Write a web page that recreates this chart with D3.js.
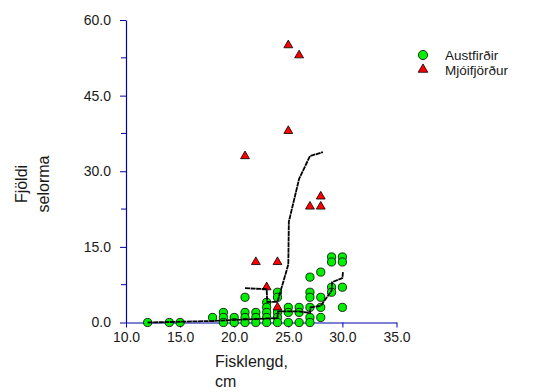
<!DOCTYPE html>
<html>
<head>
<meta charset="utf-8">
<script src="https://cdn.jsdelivr.net/npm/d3@7"></script>
<style>
  body { margin: 0; background: #fff; }
  text { font-family: "Liberation Sans", Arial, sans-serif; fill: #1a1a1a; }
</style>
</head>
<body>
<div id="chart"></div>
<script>
// Austfirðir (circles)
const austX = [12, 14, 15, 18, 19, 19, 19, 20, 20, 21, 21, 21, 21, 22, 22, 22,
    23, 23, 23, 23, 23, 24, 24, 24, 24, 24, 25, 25, 25, 26, 26, 26,
    27, 27, 27, 27, 27, 27, 28, 28, 28, 28, 29, 29, 29, 29, 30, 30, 30, 30];
const austY = [0, 0, 0, 1, 2, 1, 0, 1, 0, 5, 2, 1, 0, 2, 1, 0,
    4, 3, 2, 1, 0, 6, 5, 2, 1, 0, 3, 2, 0, 3, 2, 0,
    9, 6, 5, 3, 1, 0, 10, 5, 3, 1, 13, 12, 7, 6, 13, 12, 7, 3];

// Mjóifjörður (triangles)
const mjoX = [21, 22, 23, 24, 24, 25, 25, 26, 27, 28, 28];
const mjoY = [33, 12, 7, 12, 3, 55, 38, 53, 23, 23, 25];

// trend lines
const austLineX = [12, 18, 21, 23, 24, 24.05, 26, 27, 27.05, 28, 29, 29.05, 30, 30.05];
const austLineY = [0, 0.3, 0.6, 0.8, 0.9, 2.2, 2.2, 1.9, 3, 3.3, 6.3, 8, 8.8, 10];
const mjoLineX = [21, 23, 23.05, 24, 25, 25.05, 26, 27, 28.2];
const mjoLineY = [6.8, 6.6, 4.1, 4.1, 11.5, 20, 28.5, 33, 33.8];

const xTicks = [10, 15, 20, 25, 30, 35];
const yTicks = [0, 15, 30, 45, 60];
const yMinor = [7.5, 22.5, 37.5, 52.5];

const seriesNames = ["Austfirðir", "Mjóifjörður"];

const width = 541, height = 392;
const axisColor = "#0000a8";

const svg = d3.select("#chart").append("svg")
    .attr("width", width)
    .attr("height", height);

const x = d3.scaleLinear().domain([10, 35]).range([126, 396.5]);
const y = d3.scaleLinear().domain([0, 60]).range([322.5, 20]);

// axes
const xAxis = d3.axisBottom(x).tickValues(xTicks).tickFormat(d3.format(".1f"))
    .tickSizeInner(5).tickSizeOuter(0).tickPadding(5);
const yAxis = d3.axisLeft(y).tickValues(yTicks).tickFormat(d3.format(".1f"))
    .tickSizeInner(6).tickSizeOuter(0).tickPadding(9);

const gx = svg.append("g").attr("class", "x-axis")
    .attr("transform", "translate(0," + y(0) + ")")
    .call(xAxis);
const gy = svg.append("g").attr("class", "y-axis")
    .attr("transform", "translate(" + x(10) + ",0)")
    .call(yAxis);

// minor ticks on y
gy.selectAll(".minor").data(yMinor).enter().append("line")
    .attr("class", "minor")
    .attr("x1", -5).attr("x2", 0)
    .attr("y1", d => y(d)).attr("y2", d => y(d))
    .attr("stroke", axisColor);

[gx, gy].forEach(g => {
    g.select(".domain").attr("stroke", axisColor).attr("stroke-width", 1.2);
    g.selectAll(".tick line").attr("stroke", axisColor);
    g.selectAll(".tick text").style("font-size", "14px").attr("fill", "#1a1a1a")
        .style("font-family", "'Liberation Sans', Arial, sans-serif");
});

// points
svg.append("g").selectAll("circle")
    .data(austX.map((d, i) => [d, austY[i]]))
    .enter().append("circle")
    .attr("cx", d => x(d[0]))
    .attr("cy", d => y(d[1]))
    .attr("r", 4.1)
    .attr("fill", "#00ee00")
    .attr("stroke", "#000")
    .attr("stroke-width", 0.8);

const tri = d3.symbol().type(d3.symbolTriangle).size(34);
svg.append("g").selectAll("path")
    .data(mjoX.map((d, i) => [d, mjoY[i]]))
    .enter().append("path")
    .attr("d", tri)
    .attr("transform", d => "translate(" + x(d[0]) + "," + y(d[1]) + ")")
    .attr("fill", "#ff0000")
    .attr("stroke", "#000")
    .attr("stroke-width", 0.8);

// trend lines
const line = d3.line().x(d => x(d[0])).y(d => y(d[1]));
[[austLineX, austLineY], [mjoLineX, mjoLineY]].forEach(s => {
    svg.append("path")
        .datum(s[0].map((d, i) => [d, s[1][i]]))
        .attr("d", line)
        .attr("fill", "none")
        .attr("stroke", "#000")
        .attr("stroke-width", 1.8)
        .attr("stroke-dasharray", "5,0.6");
});

// legend
const legend = svg.append("g").attr("transform", "translate(423,55)");
legend.append("circle").attr("cx", 0).attr("cy", 0).attr("r", 4.6)
    .attr("fill", "#00ee00").attr("stroke", "#000").attr("stroke-width", 0.8);
legend.append("path").attr("d", d3.symbol().type(d3.symbolTriangle).size(40))
    .attr("transform", "translate(0,14.5)")
    .attr("fill", "#ff0000").attr("stroke", "#000").attr("stroke-width", 0.8);
legend.selectAll("text").data(seriesNames).enter().append("text")
    .attr("x", 22).attr("y", (d, i) => i * 15 + 5)
    .style("font-size", "13.5px")
    .text(d => d);

// axis titles
const yl = svg.append("text")
    .attr("transform", "translate(27,184) rotate(-90)")
    .attr("text-anchor", "middle")
    .style("font-size", "16px");
yl.append("tspan").attr("x", 0).attr("y", 0).text("Fjöldi");
yl.append("tspan").attr("x", 0).attr("y", 22).text("selorma");

const xl = svg.append("text")
    .style("font-size", "16px");
xl.append("tspan").attr("x", 215).attr("y", 367).text("Fisklengd,");
xl.append("tspan").attr("x", 215).attr("y", 387).text("cm");
</script>
</body>
</html>
